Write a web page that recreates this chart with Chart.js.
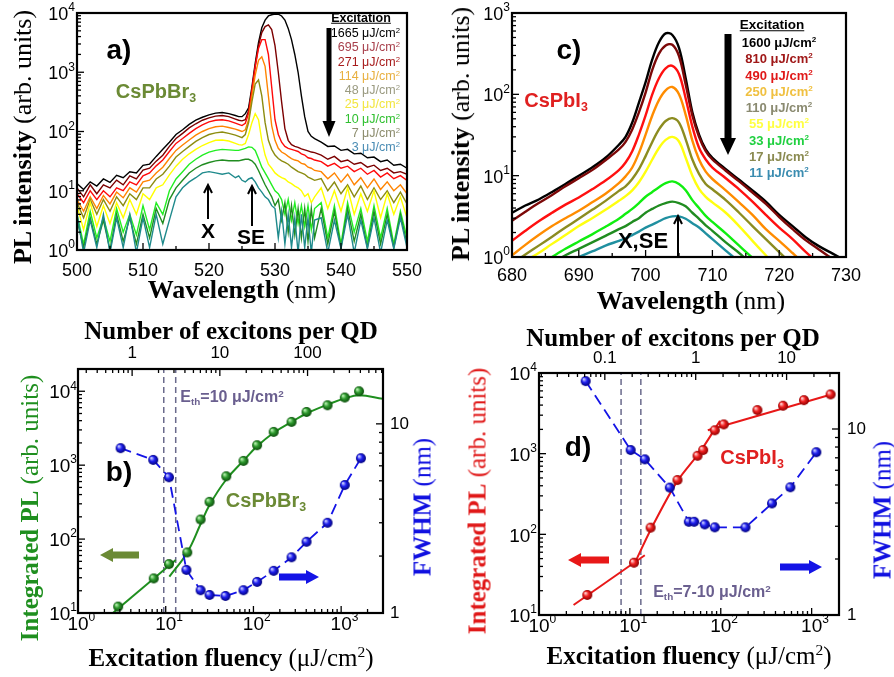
<!DOCTYPE html>
<html>
<head>
<meta charset="utf-8">
<title>CsPbBr3 / CsPbI3 photoluminescence</title>
<script src="https://cdn.jsdelivr.net/npm/chart.js"></script>
<style>
    body { margin: 0; background: #fff; }
    #page { position: relative; width: 894px; height: 677px; overflow: hidden; font-family: Arial, "Liberation Sans", sans-serif; }
    #page canvas { position: absolute; left: 0; top: 0; }
    .t { position: absolute; white-space: nowrap; line-height: 1; }
    .c { transform: translate(-50%, -50%); }
    .v { transform: translate(-50%, -50%) rotate(-90deg); }
    .tl { font-family: "Times New Roman", "Liberation Serif", serif; font-size: 25px; }
    .tl.big { font-size: 26px; }
    sup { font-size: 0.62em; vertical-align: 0.55em; line-height: 0; }
    sub { font-size: 0.62em; vertical-align: -0.3em; line-height: 0; }
    .lbl { font-weight: bold; font-size: 28px; }
    .cmp { font-weight: bold; font-size: 20px; }
    .mark { font-weight: bold; font-size: 21px; }
    .leg { font-size: 12.5px; }
    .legc { font-size: 13px; font-weight: bold; }
    .head { font-weight: bold; text-decoration: underline; }
    .eth { font-weight: bold; font-size: 16px; color: #6a5f8f; }
</style>
</head>
<body>
<div id="page">
    <canvas id="chartA" width="894" height="677"></canvas>
    <canvas id="chartC" width="894" height="677"></canvas>
    <canvas id="chartB" width="894" height="677"></canvas>
    <canvas id="chartD" width="894" height="677"></canvas>

    <!-- panel a -->
    <div class="t c lbl" style="left:119px;top:50px">a)</div>
    <div class="t c cmp" style="left:156px;top:91px;color:#6b8a35">CsPbBr<sub>3</sub></div>
    <div class="t c mark" style="left:208px;top:230px">X</div>
    <div class="t c mark" style="left:251px;top:236px">SE</div>
    <div class="t c head" style="left:361px;top:18px;font-size:12.5px">Excitation</div>
    <div class="t v tl big" style="left:23px;top:137px"><b>PL intensity</b> (arb. units)</div>
    <div class="t c tl big" style="left:242px;top:290px"><b>Wavelength</b> (nm)</div>

    <!-- panel c -->
    <div class="t c lbl" style="left:569px;top:50px">c)</div>
    <div class="t c cmp" style="left:556px;top:100px;color:#e02020">CsPbI<sub>3</sub></div>
    <div class="t c mark" style="left:643px;top:241px;font-size:22px">X,SE</div>
    <div class="t c head" style="left:772px;top:25px;font-size:13.5px">Excitation</div>
    <div class="t v tl big" style="left:461px;top:134px"><b>PL intensity</b> (arb. units)</div>
    <div class="t c tl big" style="left:691px;top:301px"><b>Wavelength</b> (nm)</div>

    <!-- panel b -->
    <div class="t c lbl" style="left:119px;top:472px">b)</div>
    <div class="t c cmp" style="left:266px;top:500px;color:#6b8a35">CsPbBr<sub>3</sub></div>
    <div class="t c eth" style="left:232px;top:397px">E<sub>th</sub>=10 μJ/cm<sup>2</sup></div>
    <div class="t c tl" style="left:231px;top:330px"><b>Number of excitons per QD</b></div>
    <div class="t c tl" style="left:231px;top:657px"><b>Excitation fluency</b> (μJ/cm<sup>2</sup>)</div>
    <div class="t v tl" style="left:29px;top:508px;color:#1f8f1f"><b>Integrated PL</b> (arb. units)</div>
    <div class="t v tl" style="left:422px;top:507px;color:#1010e0"><b>FWHM</b> (nm)</div>

    <!-- panel d -->
    <div class="t c lbl" style="left:578px;top:447px">d)</div>
    <div class="t c cmp" style="left:752px;top:457px;color:#e02020">CsPbI<sub>3</sub></div>
    <div class="t c eth" style="left:712px;top:592px">E<sub>th</sub>=7-10 μJ/cm<sup>2</sup></div>
    <div class="t c tl" style="left:673px;top:337px"><b>Number of excitons per QD</b></div>
    <div class="t c tl" style="left:689px;top:655px"><b>Excitation fluency</b> (μJ/cm<sup>2</sup>)</div>
    <div class="t v tl" style="left:477px;top:501px;color:#e01818"><b>Integrated PL</b> (arb. units)</div>
    <div class="t v tl" style="left:882px;top:510px;color:#1010e0"><b>FWHM</b> (nm)</div>
</div>

<script>
//! ==================== panel a : CsPbBr3 spectra ====================
const waveA = [500, 501, 502, 503, 504, 505, 506, 507, 508, 509, 510, 511, 512, 513, 514, 515, 516, 517, 518, 519, 520, 521, 522, 523, 524,
    524.5, 525, 525.5, 526, 526.5, 527, 527.5, 528, 528.5, 529, 529.5, 530, 530.5, 531, 531.5, 532, 532.5, 533, 533.5, 534, 534.5, 535, 535.5, 536,
    537, 538, 539, 540, 541, 542, 543, 544, 545, 546, 547, 548, 549, 550];

const a1665 = [13.2, 10.5, 14.1, 12, 15.8, 13.8, 18.2, 16.6, 20.9, 20, 26.9, 28.2, 38, 50, 66, 89, 107, 132, 155, 174, 191, 204, 209, 200, 186,
    178, 178, 200, 251, 562, 1413, 3162, 5623, 7586, 8913, 9333, 9550, 9550, 8913, 7586, 5495, 3548, 1995, 1000, 398, 178, 100, 83, 76,
    66, 56, 57, 48, 50, 42, 43, 36, 37, 31, 33, 27, 28, 24];
const a695 = [11.2, 7.9, 12.6, 8.9, 12.6, 11.2, 15.1, 12.6, 17.8, 15.8, 22.4, 24, 31.6, 39.8, 56, 76, 93, 115, 135, 155, 170, 182, 186, 178, 162,
    155, 151, 158, 224, 501, 1259, 2818, 4677, 5888, 6310, 5248, 2818, 1000, 316, 112, 71, 60, 56, 54, 51, 49, 47, 45, 44,
    40, 34, 38, 31, 33, 28, 30, 25, 27, 22, 24, 20, 21, 19];
const a271 = [8.9, 6.3, 10, 7.1, 10, 7.9, 11.2, 10, 14.1, 12.6, 17.8, 20, 26.3, 33, 46, 63, 76, 93, 112, 129, 145, 155, 158, 151, 138,
    132, 126, 138, 200, 501, 1259, 2512, 3548, 3548, 1995, 562, 158, 89, 66, 56, 52, 50, 48, 46, 42, 40, 36, 35, 33,
    31, 26, 29, 24, 26, 21, 24, 19, 22, 17, 20, 16, 18, 15];
const a114 = [7.1, 4.5, 7.9, 5, 8.3, 6, 9.5, 7.6, 11.2, 9.5, 14.1, 15.1, 20, 25, 35, 48, 59, 72, 87, 100, 112, 120, 123, 117, 110,
    105, 100, 107, 158, 398, 891, 1585, 1820, 1259, 398, 126, 71, 52, 45, 42, 38, 35, 33, 32, 29, 28, 25, 24, 22,
    21, 16, 20, 14, 19, 12.6, 16.6, 11.2, 15.8, 10.5, 14.1, 10, 12.6, 8.9];
const a48 = [6.3, 3.5, 7.1, 4, 7.1, 4.5, 7.9, 5.6, 8.9, 7.1, 11.2, 11.2, 15.8, 19, 26, 37, 46, 56, 68, 79, 89, 95, 98, 93, 87,
    83, 79, 89, 141, 316, 631, 741, 398, 141, 71, 50, 40, 35, 32, 30, 28, 25, 23, 21, 20, 19, 17, 16, 15,
    16, 10, 14, 8.9, 12.6, 7.9, 12, 7.1, 11.2, 7.1, 10, 6.3, 9.5, 6];
const a25 = [5.6, 2.2, 6.3, 2.5, 5.6, 2.8, 6.3, 3.5, 7.1, 4, 8.9, 7.1, 11.2, 12.6, 18.6, 26, 34, 42, 50, 58, 65, 71, 72, 69, 63,
    60, 59, 63, 89, 141, 200, 158, 71, 40, 28, 24, 20, 18, 16.6, 15.8, 14.1, 13.2, 12, 11.2, 10, 8, 8.9, 6.3, 7.9,
    11.2, 5, 10, 4.5, 11.2, 4, 8.9, 4.5, 10, 3.5, 8.9, 4, 7.9, 3.5];
const a10 = [4, 1.26, 4.5, 1.6, 3.5, 1.4, 5, 2, 4, 1.8, 5.6, 2.2, 6.3, 4, 10, 15.8, 21, 28, 34, 40, 45, 48, 50, 49, 48,
    48, 50, 52, 55, 54, 48, 35, 25, 20, 16, 12.6, 10, 8.9, 7.1, 4, 7.1, 3.2, 6.3, 2.8, 5.6, 2.5, 5.6, 2.2, 5,
    6.3, 1.6, 5.6, 1.26, 6.3, 2, 5, 1.4, 5.6, 1.6, 5, 1.26, 4.5, 1.6];
const a7 = [3.2, 1.1, 3.5, 1.26, 3.2, 1.0, 4, 1.4, 3.5, 1.26, 4, 1.6, 5, 2.8, 7.1, 11.2, 15, 20, 24, 27.5, 30, 32, 33, 32, 32,
    32, 33, 34, 34, 32, 28, 22, 16.6, 12.6, 10, 7.9, 5.6, 7.1, 3.2, 6.3, 2, 5.6, 1.8, 5, 1.6, 5, 1.4, 5, 1.6,
    5, 1.26, 4.5, 1.1, 5, 1.4, 4, 1.1, 4.5, 1.26, 4, 1.1, 4, 1.26];
const a3 = [4, 0.9, 3.2, 1.1, 4, 0.9, 3.5, 1.1, 4, 0.9, 3.5, 1.1, 4, 1.26, 3.2, 7.9, 11.2, 14.1, 16.6, 20, 21, 20, 19, 20, 16.6,
    17.8, 15, 14.1, 15.8, 16.6, 14.1, 11.2, 9.5, 7.9, 7.1, 5.6, 5, 1.6, 4.5, 1.26, 4, 1.1, 3.5, 0.9, 4, 1.1, 3.5, 0.9, 3.2,
    3.5, 0.9, 3.2, 1.05, 4, 0.9, 3.2, 1.05, 3.5, 0.9, 3.2, 1.05, 3.5, 1.1];

const fluenceA = ['1665', '695', '271', '114', '48', '25', '10', '7', '3'];
const seriesA = [a1665, a695, a271, a114, a48, a25, a10, a7, a3];
const lineColA = ['#000000', '#7c0000', '#ff0a0a', '#ff8400', '#8c8c10', '#ffff00', '#22ee22', '#208c20', '#1f8a8c'];
const textColA = ['#000000', '#a8404c', '#a81c1c', '#e8b040', '#9a9a80', '#f2e640', '#30c030', '#8c8c6c', '#4a8cb4'];
const ticksPowA = [1, 10, 100, 1000, 10000];

//! ==================== panel c : CsPbI3 spectra =====================
const waveC = [680, 682, 684, 686, 688, 690, 692, 694, 696, 697, 698, 699, 700, 701, 702, 703, 704, 705, 706, 707, 708, 709, 710,
    712, 714, 716, 718, 720, 722, 724, 726, 728, 730];

const c1600 = [3.5, 4.3, 5.1, 6.3, 7.9, 10, 12.6, 16.6, 24, 30, 45, 79, 141, 269, 437, 562, 537, 372, 158, 60, 32, 21, 16.6,
    12, 8.9, 6.6, 4.8, 3.3, 2.4, 1.74, 1.35, 1.1, 0.9];
const c810 = [2.8, 3.6, 4.6, 5.8, 7.4, 9.3, 11.7, 15.5, 21, 26, 37, 60, 105, 200, 316, 398, 407, 295, 132, 55, 30, 20, 15.8,
    11.5, 8.5, 6.2, 4.5, 3.1, 2.2, 1.6, 1.23, 0.95, 0.8];
const c490 = [1.58, 2.1, 2.75, 3.5, 4.4, 5.4, 6.8, 8.7, 11.7, 14.5, 20, 32, 55, 100, 158, 209, 224, 178, 89, 40, 22, 15.8, 12.6,
    9.3, 6.8, 4.8, 3.3, 2.3, 1.66, 1.15, 0.83, 0.63, 0.5];
const c250 = [1.05, 1.41, 1.86, 2.4, 3.0, 3.7, 4.7, 6.0, 8.1, 9.8, 12.6, 19, 32, 55, 85, 112, 123, 100, 56, 27, 15.8, 11.2, 9.1,
    6.6, 4.7, 3.3, 2.2, 1.58, 1.12, 0.79, 0.63, 0.5, 0.4];
const c110 = [0.83, 1.07, 1.38, 1.78, 2.3, 2.95, 3.8, 4.9, 6.5, 7.4, 9.1, 12, 17.4, 26, 37, 47, 51, 45, 28, 15.8, 10.5, 7.9, 6.8,
    5, 3.5, 2.4, 1.66, 1.15, 0.8, 0.63, 0.5, 0.4, 0.32];
const c55 = [0.69, 0.89, 1.12, 1.45, 1.86, 2.4, 3.0, 3.8, 4.9, 5.6, 6.6, 8.3, 11.2, 15.8, 21.9, 27.5, 30, 26.3, 16.6, 10, 6.9, 5.5, 4.7,
    3.5, 2.4, 1.58, 1.05, 0.7, 0.5, 0.4, 0.32, 0.25, 0.2];
const c33 = [0.5, 0.63, 0.79, 1.0, 1.26, 1.55, 1.9, 2.35, 2.95, 3.4, 3.9, 4.6, 5.5, 6.3, 7.2, 8.1, 8.5, 7.9, 6.6, 5.0, 4.0, 3.2, 2.7,
    1.95, 1.38, 0.98, 0.71, 0.5, 0.4, 0.32, 0.25, 0.2, 0.16];
const c17 = [0.45, 0.56, 0.71, 0.85, 1.05, 1.26, 1.51, 1.82, 2.2, 2.4, 2.7, 3.0, 3.5, 3.9, 4.3, 4.6, 4.8, 4.6, 4.2, 3.5, 2.95, 2.45, 2.1,
    1.51, 1.12, 0.8, 0.6, 0.45, 0.35, 0.28, 0.22, 0.18, 0.14];
const c11 = [0.4, 0.5, 0.6, 0.7, 0.85, 1.0, 1.17, 1.38, 1.58, 1.7, 1.86, 2.05, 2.3, 2.5, 2.75, 3.0, 3.16, 3.16, 2.95, 2.6, 2.3, 1.95, 1.66,
    1.2, 0.87, 0.63, 0.5, 0.4, 0.35, 0.3, 0.25, 0.2, 0.18];

const fluenceC = ['1600', '810', '490', '250', '110', '55', '33', '17', '11'];
const seriesC = [c1600, c810, c490, c250, c110, c55, c33, c17, c11];
const lineColC = ['#000000', '#7c0808', '#ff1010', '#ff8c00', '#8c8c20', '#ffff10', '#10ee10', '#208c20', '#2090a0'];
const textColC = ['#000000', '#a01818', '#e01818', '#f0c040', '#8a8a70', '#ffff40', '#20d040', '#8a8a50', '#3a8cb0'];
const ticksPowC = [1, 10, 100, 1000];

//! ============== panel b : CsPbBr3 integrated PL / FWHM ==============
const fluB = [2.87, 7.3, 10.9, 17.6, 25, 31.6, 49, 77, 110, 170, 272, 403, 700, 1100, 1600];
const plB = [12.2, 29.4, 45.9, 66, 184, 319, 708, 1143, 1862, 2818, 3846, 5248, 6460, 8220, 10000];
const fwhmFluB = [3.06, 7.2, 10.9, 17.2, 25, 31.6, 48, 77, 110, 170, 272, 403, 700, 1100, 1680];
const fwhmB = [7.44, 6.45, 5.22, 1.69, 1.32, 1.245, 1.23, 1.32, 1.46, 1.67, 1.97, 2.38, 3.0, 4.75, 6.58];
const fitB1x = [2.5, 13];
const fitB1y = [10, 52];
const fitB2x = [11, 17.6, 25, 31.6, 49, 77, 110, 170, 272, 403, 700, 1100, 1600, 3000];
const fitB2y = [31, 66, 160, 290, 640, 1150, 1800, 2750, 3850, 5000, 6600, 8000, 8800, 7900];
const ethB = [9.5, 13];
const excitonsPerFluB = 1 / 4.14;
const ticksPowB = [1, 10, 100, 1000];
const ticksPowBy = [10, 100, 1000, 10000];
const ticksTopB = [1, 10, 100];
const ticksRightB = [1, 10];

//! ============== panel d : CsPbI3 integrated PL / FWHM ===============
const fluD = [3.4, 11.1, 16.9, 33.4, 55.5, 64, 86, 108, 253, 484, 823, 1617];
const plD = [17.7, 44.5, 121, 471, 942, 1109, 1950, 2307, 3470, 3930, 4610, 5430];
const fwhmFluD = [3.26, 10.2, 14.6, 27.5, 44.5, 51, 66.7, 86, 187, 366, 583, 1127];
const fwhmD = [18.1, 7.71, 6.87, 4.84, 3.17, 3.17, 3.07, 2.96, 2.96, 3.98, 4.86, 7.5];
const fitD1x = [2.4, 14.6];
const fitD1y = [13.3, 55];
const fitD2x = [11, 17, 33, 60, 98];
const fitD2y = [41, 115, 450, 1080, 2550];
const fitD3x = [72, 1790];
const fitD3y = [1950, 5580];
const ethD = [8.0, 13.2];
const excitonsPerFluD = 1 / 53;
const ticksPowD = [1, 10, 100, 1000];
const ticksPowDy = [10, 100, 1000, 10000];
const ticksTopD = [0.1, 1, 10];
const ticksRightD = [1, 10];

//! ========================= helpers ==========================
Chart.defaults.font.family = 'Arial';

const pts = (xs, ys) => xs.map((x, i) => ({ x: x, y: ys[i] }));

function forceSize(size) {
    return function (scale) {
        if (scale.isHorizontal()) scale.height = size; else scale.width = size;
        scale.paddingLeft = scale.paddingRight = scale.paddingTop = scale.paddingBottom = 0;
    };
}

function hiddenAxis(extra) {
    return Object.assign({
        ticks: { display: false },
        grid: { display: false },
        border: { display: false },
        afterFit: forceSize(30)
    }, extra);
}

function sphere(r, c0, c1, c2) {
    const cv = document.createElement('canvas');
    cv.width = cv.height = 2 * r + 2;
    const g = cv.getContext('2d');
    const m = r + 1;
    const grad = g.createRadialGradient(m - r * 0.4, m - r * 0.4, r * 0.1, m, m, r);
    grad.addColorStop(0, c0);
    grad.addColorStop(0.45, c1);
    grad.addColorStop(1, c2);
    g.fillStyle = grad;
    g.beginPath();
    g.arc(m, m, r, 0, Math.PI * 2);
    g.fill();
    return cv;
}

const ballGreen = sphere(5, '#b8f0b0', '#2e9a2e', '#0a4a0a');
const ballBlue = sphere(5, '#c8ccff', '#2020f0', '#00007a');
const ballRed = sphere(5, '#ffd0d0', '#f02020', '#8a0000');

function tickValues(scale, step) {
    const out = [];
    if (scale.type === 'logarithmic') {
        for (let e = Math.floor(Math.log10(scale.min)); e <= Math.ceil(Math.log10(scale.max)); e++) {
            for (let m = 1; m < 10; m++) {
                const v = m * Math.pow(10, e);
                if (v >= scale.min * 0.999 && v <= scale.max * 1.001) out.push({ v: v, major: m === 1 });
            }
        }
    } else {
        for (let v = scale.min; v <= scale.max + 1e-9; v += step) out.push({ v: v, major: Math.round(v) % (2 * step) === 0 });
    }
    return out;
}

function drawTicks(ctx, scale, side, area, step) {
    ctx.strokeStyle = '#000';
    ctx.lineWidth = 1.3;
    tickValues(scale, step).forEach(t => {
        const p = scale.getPixelForValue(t.v);
        const len = t.major ? 7 : 4;
        ctx.beginPath();
        if (side === 'bottom') { ctx.moveTo(p, area.bottom); ctx.lineTo(p, area.bottom - len); }
        else if (side === 'top') { ctx.moveTo(p, area.top); ctx.lineTo(p, area.top + len); }
        else if (side === 'left') { ctx.moveTo(area.left, p); ctx.lineTo(area.left + len, p); }
        else { ctx.moveTo(area.right, p); ctx.lineTo(area.right - len, p); }
        ctx.stroke();
    });
}

function drawLabels(ctx, scale, l, area) {
    ctx.fillStyle = '#000';
    ctx.textBaseline = 'middle';
    l.values.forEach(v => {
        const p = scale.getPixelForValue(v);
        if (l.pow) {
            const exp = String(Math.round(Math.log10(v)));
            const small = Math.round(l.size * 0.64);
            ctx.textAlign = 'left';
            ctx.font = l.size + 'px Arial';
            const w1 = ctx.measureText('10').width;
            ctx.font = small + 'px Arial';
            const w2 = ctx.measureText(exp).width;
            let x, y;
            if (l.side === 'left') { x = area.left - l.gap - w1 - w2; y = p + 2; }
            else { x = p - w1 / 2; y = area.bottom + l.gap; }
            ctx.font = l.size + 'px Arial';
            ctx.fillText('10', x, y);
            ctx.font = small + 'px Arial';
            ctx.fillText(exp, x + w1, y - 7);
        } else {
            ctx.font = l.size + 'px Arial';
            if (l.side === 'top') { ctx.textAlign = 'center'; ctx.fillText(String(v), p, area.top - l.gap); }
            else { ctx.textAlign = 'left'; ctx.fillText(String(v), area.right + l.gap, p); }
        }
    });
}

function drawArrow(ctx, a) {
    const ang = Math.atan2(a.y2 - a.y1, a.x2 - a.x1);
    const len = Math.hypot(a.x2 - a.x1, a.y2 - a.y1);
    ctx.save();
    ctx.translate(a.x1, a.y1);
    ctx.rotate(ang);
    ctx.fillStyle = ctx.strokeStyle = a.color;
    ctx.beginPath();
    if (a.open) {
        ctx.lineWidth = a.w;
        ctx.moveTo(0, 0); ctx.lineTo(len, 0);
        ctx.moveTo(len - a.hl, -a.hw); ctx.lineTo(len, 0); ctx.lineTo(len - a.hl, a.hw);
        ctx.stroke();
    } else {
        ctx.moveTo(0, -a.w / 2); ctx.lineTo(len - a.hl, -a.w / 2); ctx.lineTo(len - a.hl, -a.hw / 2);
        ctx.lineTo(len, 0);
        ctx.lineTo(len - a.hl, a.hw / 2); ctx.lineTo(len - a.hl, a.w / 2); ctx.lineTo(0, a.w / 2);
        ctx.closePath();
        ctx.fill();
    }
    ctx.restore();
}

// frame, inward ticks, custom log labels and arrows
function deco(spec) {
    return {
        id: 'deco',
        afterDatasetsDraw(chart) {
            const ctx = chart.ctx, area = chart.chartArea;
            ctx.save();
            spec.ticks.forEach(t => drawTicks(ctx, chart.scales[t.axis], t.side, area, t.step));
            ctx.lineWidth = 2.2;
            ctx.strokeStyle = '#000';
            ctx.strokeRect(area.left, area.top, area.right - area.left, area.bottom - area.top);
            spec.labels.forEach(l => drawLabels(ctx, chart.scales[l.axis], l, area));
            spec.arrows.forEach(a => drawArrow(ctx, a));
            ctx.restore();
        }
    };
}

function baseOptions(padding, scales) {
    return {
        responsive: false,
        animation: false,
        devicePixelRatio: 1,
        events: [],
        layout: { padding: padding },
        plugins: { legend: { display: false }, tooltip: { enabled: false } },
        scales: scales
    };
}

function spectrumSets(wave, series, colors, width, tension) {
    return series.map((vals, i) => ({
        data: pts(wave, vals),
        showLine: true,
        borderColor: colors[i],
        borderWidth: width,
        pointRadius: 0,
        tension: tension,
        order: series.length - i
    }));
}

function linearX(min, max, pad) {
    return {
        type: 'linear', min: min, max: max, afterFit: forceSize(40),
        ticks: { stepSize: 10, autoSkip: false, maxRotation: 0, padding: pad, color: '#000', font: { size: 18 } },
        grid: { display: false }, border: { display: false }
    };
}

function legend(labels, colors, cls, x, y0, dy, align) {
    const page = document.getElementById('page');
    labels.forEach((f, i) => {
        const d = document.createElement('div');
        d.className = 't ' + cls;
        d.style.color = colors[i];
        d.innerHTML = f + ' μJ/cm<sup>2</sup>';
        if (align === 'right') {
            d.style.right = (894 - x) + 'px';
            d.style.top = (y0 + i * dy - 6) + 'px';
        } else {
            d.classList.add('c');
            d.style.left = x + 'px';
            d.style.top = (y0 + i * dy) + 'px';
        }
        page.appendChild(d);
    });
}

//! ========================= panel a ==========================
new Chart(document.getElementById('chartA'), {
    type: 'scatter',
    data: { datasets: spectrumSets(waveA, seriesA, lineColA, 1.4, 0) },
    options: baseOptions({ left: 37, top: 13, right: 487, bottom: 387 }, {
        x: linearX(500, 550, 2),
        y: hiddenAxis({ type: 'logarithmic', min: 1, max: 10000, afterFit: forceSize(40) })
    }),
    plugins: [deco({
        ticks: [{ axis: 'x', side: 'bottom', step: 5 }, { axis: 'y', side: 'left' }],
        labels: [{ axis: 'y', side: 'left', pow: true, values: ticksPowA, size: 18, gap: 2 }],
        arrows: [
            { x1: 329, y1: 28, x2: 329, y2: 137, w: 5, hw: 13, hl: 16, color: '#000' },
            { x1: 208, y1: 219, x2: 208, y2: 185, w: 2, hw: 4, hl: 8, color: '#000', open: true },
            { x1: 252, y1: 226, x2: 252, y2: 186, w: 2, hw: 4, hl: 8, color: '#000', open: true }
        ]
    })]
});
legend(fluenceA, textColA, 'leg', 400, 33, 14.25, 'right');

//! ========================= panel c ==========================
new Chart(document.getElementById('chartC'), {
    type: 'scatter',
    data: { datasets: spectrumSets(waveC, seriesC, lineColC, 2.4, 0.35) },
    options: baseOptions({ left: 472, top: 13, right: 48, bottom: 380 }, {
        x: linearX(680, 730, 0),
        y: hiddenAxis({ type: 'logarithmic', min: 1, max: 1000, afterFit: forceSize(40) })
    }),
    plugins: [deco({
        ticks: [{ axis: 'x', side: 'bottom', step: 5 }, { axis: 'y', side: 'left' }],
        labels: [{ axis: 'y', side: 'left', pow: true, values: ticksPowC, size: 18, gap: 2 }],
        arrows: [
            { x1: 728, y1: 34, x2: 728, y2: 155, w: 7, hw: 16, hl: 17, color: '#000' },
            { x1: 678, y1: 257, x2: 678, y2: 216, w: 2, hw: 4, hl: 8, color: '#000', open: true }
        ]
    })]
});
legend(fluenceC, textColC, 'legc', 779, 42, 16.25, 'center');

//! ========================= panel b ==========================
new Chart(document.getElementById('chartB'), {
    type: 'scatter',
    data: {
        datasets: [
            { data: pts(fluB, plB), yAxisID: 'y', pointStyle: ballGreen, pointRadius: 5, order: 1 },
            { data: pts(fitB1x, fitB1y), yAxisID: 'y', showLine: true, borderColor: '#1f8f1f', borderWidth: 2, pointRadius: 0, order: 4 },
            { data: pts(fitB2x, fitB2y), yAxisID: 'y', showLine: true, borderColor: '#1f8f1f', borderWidth: 2, pointRadius: 0, tension: 0.4, order: 4 },
            { data: pts(fwhmFluB, fwhmB), yAxisID: 'y2', showLine: true, borderColor: '#1414e6', borderWidth: 1.8, borderDash: [11, 6],
              pointStyle: ballBlue, pointRadius: 5, order: 2 },
            { data: pts([ethB[0], ethB[0]], [10, 20000]), yAxisID: 'y', showLine: true, borderColor: '#6a6a8c', borderWidth: 1.5, borderDash: [6, 4], pointRadius: 0, order: 5 },
            { data: pts([ethB[1], ethB[1]], [10, 20000]), yAxisID: 'y', showLine: true, borderColor: '#6a6a8c', borderWidth: 1.5, borderDash: [6, 4], pointRadius: 0, order: 5 }
        ]
    },
    options: baseOptions({ left: 48, top: 339, right: 481, bottom: 34 }, {
        x: hiddenAxis({ type: 'logarithmic', position: 'bottom', min: 1, max: 3000 }),
        x2: hiddenAxis({ type: 'logarithmic', position: 'top', min: 1 * excitonsPerFluB, max: 3000 * excitonsPerFluB }),
        y: hiddenAxis({ type: 'logarithmic', position: 'left', min: 10, max: 20000 }),
        y2: hiddenAxis({ type: 'logarithmic', position: 'right', min: 1, max: 19.5 })
    }),
    plugins: [deco({
        ticks: [{ axis: 'x', side: 'bottom' }, { axis: 'x2', side: 'top' }, { axis: 'y', side: 'left' }, { axis: 'y2', side: 'right' }],
        labels: [
            { axis: 'x', side: 'bottom', pow: true, values: ticksPowB, size: 19, gap: 12 },
            { axis: 'y', side: 'left', pow: true, values: ticksPowBy, size: 19, gap: 1 },
            { axis: 'x2', side: 'top', values: ticksTopB, size: 17, gap: 16 },
            { axis: 'y2', side: 'right', values: ticksRightB, size: 17, gap: 7 }
        ],
        arrows: [
            { x1: 139, y1: 555, x2: 100, y2: 555, w: 7, hw: 14, hl: 13, color: '#6b8a35' },
            { x1: 279, y1: 577, x2: 319, y2: 577, w: 7, hw: 14, hl: 13, color: '#1414e6' }
        ]
    })]
});

//! ========================= panel d ==========================
new Chart(document.getElementById('chartD'), {
    type: 'scatter',
    data: {
        datasets: [
            { data: pts(fluD, plD), yAxisID: 'y', pointStyle: ballRed, pointRadius: 5, order: 1 },
            { data: pts(fitD1x, fitD1y), yAxisID: 'y', showLine: true, borderColor: '#e81818', borderWidth: 2, pointRadius: 0, order: 4 },
            { data: pts(fitD2x, fitD2y), yAxisID: 'y', showLine: true, borderColor: '#e81818', borderWidth: 2, pointRadius: 0, tension: 0.3, order: 4 },
            { data: pts(fitD3x, fitD3y), yAxisID: 'y', showLine: true, borderColor: '#e81818', borderWidth: 2, pointRadius: 0, order: 4 },
            { data: pts(fwhmFluD, fwhmD), yAxisID: 'y2', showLine: true, borderColor: '#1414e6', borderWidth: 1.8, borderDash: [11, 6],
              pointStyle: ballBlue, pointRadius: 5, order: 2 },
            { data: pts([ethD[0], ethD[0]], [10, 10000]), yAxisID: 'y', showLine: true, borderColor: '#6a6a8c', borderWidth: 1.5, borderDash: [6, 4], pointRadius: 0, order: 5 },
            { data: pts([ethD[1], ethD[1]], [10, 10000]), yAxisID: 'y', showLine: true, borderColor: '#6a6a8c', borderWidth: 1.5, borderDash: [6, 4], pointRadius: 0, order: 5 }
        ]
    },
    options: baseOptions({ left: 509, top: 343, right: 25, bottom: 32 }, {
        x: hiddenAxis({ type: 'logarithmic', position: 'bottom', min: 1, max: 2000 }),
        x2: hiddenAxis({ type: 'logarithmic', position: 'top', min: 1 * excitonsPerFluD, max: 2000 * excitonsPerFluD }),
        y: hiddenAxis({ type: 'logarithmic', position: 'left', min: 10, max: 10000 }),
        y2: hiddenAxis({ type: 'logarithmic', position: 'right', min: 1, max: 20 })
    }),
    plugins: [deco({
        ticks: [{ axis: 'x', side: 'bottom' }, { axis: 'x2', side: 'top' }, { axis: 'y', side: 'left' }, { axis: 'y2', side: 'right' }],
        labels: [
            { axis: 'x', side: 'bottom', pow: true, values: ticksPowD, size: 19, gap: 12 },
            { axis: 'y', side: 'left', pow: true, values: ticksPowDy, size: 19, gap: 2 },
            { axis: 'x2', side: 'top', values: ticksTopD, size: 17, gap: 15 },
            { axis: 'y2', side: 'right', values: ticksRightD, size: 17, gap: 8 }
        ],
        arrows: [
            { x1: 609, y1: 560, x2: 568, y2: 560, w: 7, hw: 14, hl: 13, color: '#e81818' },
            { x1: 780, y1: 567, x2: 822, y2: 567, w: 7, hw: 14, hl: 13, color: '#1414e6' }
        ]
    })]
});
</script>
</body>
</html>
